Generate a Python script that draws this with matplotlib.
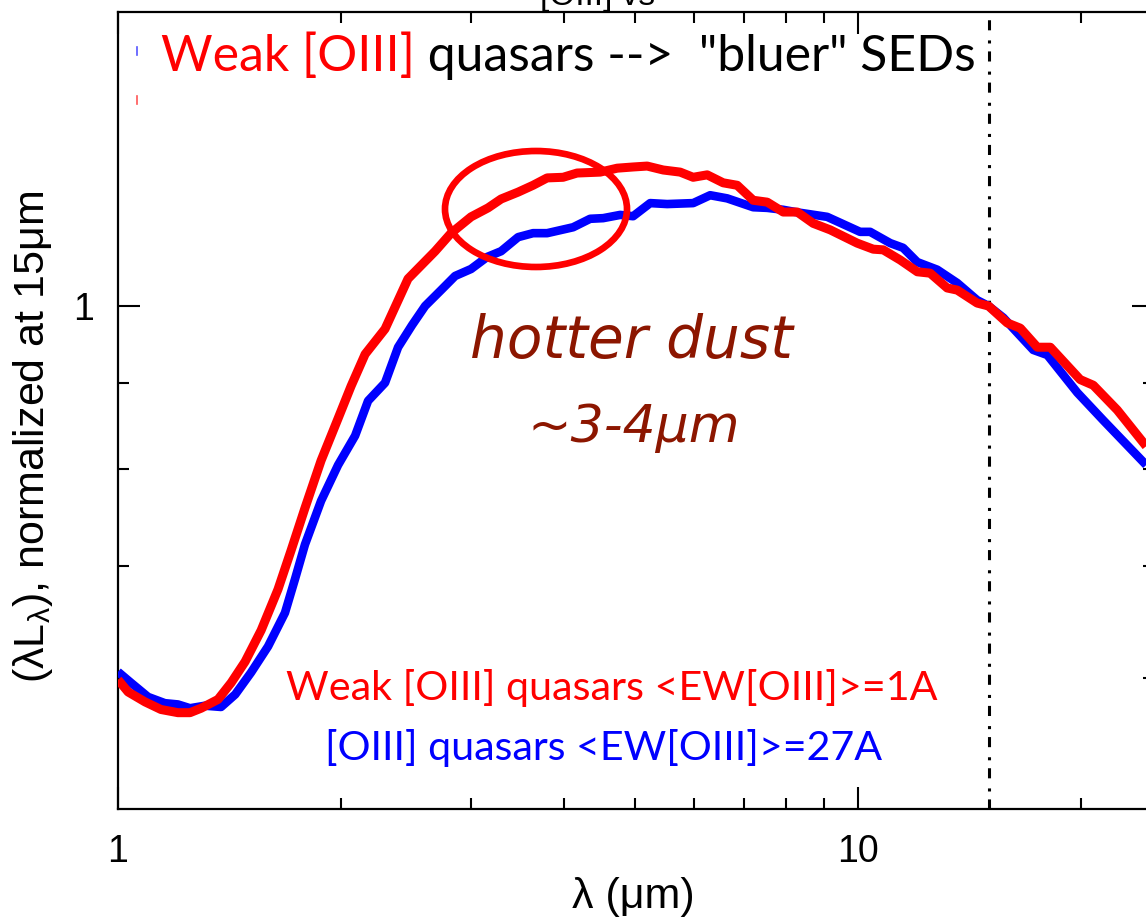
import matplotlib
matplotlib.use("Agg")
import matplotlib.pyplot as plt
from matplotlib.patches import Ellipse
from matplotlib.lines import Line2D
from matplotlib.ticker import FixedLocator, NullFormatter, FixedFormatter

# ---------------- data ----------------
wave_weak = [1.000, 1.032, 1.088, 1.143, 1.205, 1.251, 1.295, 1.365, 1.422, 1.485,
             1.561, 1.645, 1.713, 1.789, 1.881, 1.983, 2.065, 2.157, 2.295, 2.465,
             2.682, 2.818, 2.999, 3.162, 3.293, 3.472, 3.637, 3.800, 3.993, 4.171,
             4.482, 4.725, 4.966, 5.187, 5.452, 5.748, 5.985, 6.252, 6.571, 6.864,
             7.214, 7.536, 7.920, 8.273, 8.694, 9.167, 9.969, 10.48, 10.81, 11.40,
             12.02, 12.51, 13.19, 13.61, 14.48, 15.00, 15.90, 16.56, 17.46, 18.18,
             19.95, 20.78, 22.39, 24.50]
lum_weak = [0.599, 0.589, 0.581, 0.575, 0.5725, 0.5725, 0.576, 0.583, 0.5965, 0.614,
            0.641, 0.678, 0.715, 0.758, 0.809, 0.857, 0.896, 0.936, 0.969, 1.038,
            1.078, 1.105, 1.130, 1.144, 1.158, 1.169, 1.180, 1.192, 1.193, 1.200,
            1.2015, 1.208, 1.210, 1.2115, 1.205, 1.2015, 1.193, 1.197, 1.184, 1.180,
            1.156, 1.153, 1.1375, 1.1375, 1.120, 1.110, 1.090, 1.081, 1.080, 1.065,
            1.048, 1.046, 1.025, 1.022, 1.004, 1.000, 0.977, 0.970, 0.945, 0.945,
            0.904, 0.897, 0.867, 0.825]

wave_strong = [1.000, 1.041, 1.098, 1.157, 1.205, 1.251, 1.311, 1.378, 1.440, 1.513,
               1.595, 1.681, 1.735, 1.789, 1.881, 1.983, 2.091, 2.177, 2.295, 2.390,
               2.496, 2.600, 2.732, 2.854, 2.999, 3.153, 3.293, 3.472, 3.637, 3.800,
               4.120, 4.344, 4.524, 4.769, 4.966, 5.236, 5.520, 5.985, 6.310, 6.653,
               7.214, 7.536, 7.920, 8.273, 9.081, 10.06, 10.38, 11.05, 11.50, 12.02,
               12.79, 13.61, 14.48, 15.00, 15.71, 17.24, 18.01, 19.77, 21.43, 24.50]
lum_strong = [0.6055, 0.5965, 0.585, 0.580, 0.579, 0.576, 0.578, 0.577, 0.587, 0.605,
              0.627, 0.6565, 0.688, 0.721, 0.7655, 0.804, 0.837, 0.878, 0.900, 0.945,
              0.974, 1.000, 1.022, 1.042, 1.052, 1.0695, 1.078, 1.099, 1.105, 1.105,
              1.114, 1.127, 1.128, 1.133, 1.131, 1.1515, 1.150, 1.1515, 1.164, 1.159,
              1.145, 1.144, 1.141, 1.137, 1.130, 1.107, 1.107, 1.090, 1.083, 1.062,
              1.051, 1.032, 1.008, 1.000, 0.984, 0.9415, 0.935, 0.888, 0.855, 0.804]

norm_wave = 15.0
x_range = (1.0, 25.1)
y_range = (0.502, 1.4955)
x_major = [1, 10]
x_major_labels = ["1", "10"]
x_minor = [2, 3, 4, 5, 6, 7, 8, 9, 20]
y_major = [1.0]
y_major_labels = ["1"]
y_minor = [0.6, 0.7, 0.8, 0.9]

title_text = "[OIII] vs"
top_red = "Weak [OIII]"
top_black = ' quasars -->  "bluer" SEDs'
note1 = "hotter dust"
note2 = "~3-4μm"
label_weak = "Weak [OIII] quasars <EW[OIII]>=1A"
label_strong = "[OIII] quasars <EW[OIII]>=27A"
xlabel = "λ (μm)"
ylabel = r"(λL$_\mathregular{λ}$), normalized at 15μm"

# ---------------- figure ----------------
W, H = 1146, 917
plt.rcParams['font.family'] = ['Liberation Sans', 'DejaVu Sans']
plt.rcParams['mathtext.fontset'] = 'custom'
plt.rcParams['mathtext.rm'] = 'Liberation Sans'

fig = plt.figure(figsize=(W / 100, H / 100), dpi=100)
fig.patch.set_facecolor('white')


def fpx(x, y):
    return x / W, 1 - y / H


ax_l, ax_r, ax_t, ax_b = 118, 1154, 12.5, 808.5
ax = fig.add_axes([ax_l / W, 1 - ax_b / H, (ax_r - ax_l) / W, (ax_b - ax_t) / H])
ax.set_xscale('log')
ax.set_yscale('log')
ax.set_xlim(*x_range)
ax.set_ylim(*y_range)

ax.plot(wave_strong, lum_strong, color='#0000ff', lw=6.2, solid_joinstyle='round',
        solid_capstyle='butt', zorder=3)
ax.plot(wave_weak, lum_weak, color='#ff0000', lw=6.5, solid_joinstyle='round',
        solid_capstyle='butt', zorder=4)

ax.axvline(norm_wave, color='black', lw=2.2, linestyle=(0, (3.3, 2.6, 1.0, 3.3)), zorder=2)

# ticks
ax.xaxis.set_major_locator(FixedLocator(x_major))
ax.xaxis.set_major_formatter(FixedFormatter(x_major_labels))
ax.xaxis.set_minor_locator(FixedLocator(x_minor))
ax.xaxis.set_minor_formatter(NullFormatter())
ax.yaxis.set_major_locator(FixedLocator(y_major))
ax.yaxis.set_major_formatter(FixedFormatter(y_major_labels))
ax.yaxis.set_minor_locator(FixedLocator(y_minor))
ax.yaxis.set_minor_formatter(NullFormatter())
ax.tick_params(which='both', direction='in', top=True, right=True, width=1.5, color='black')
ax.tick_params(which='major', length=15.5, labelsize=27)
ax.tick_params(which='minor', length=8)
ax.tick_params(axis='x', which='major', pad=18)
ax.tick_params(axis='y', which='major', pad=17)
for s in ax.spines.values():
    s.set_linewidth(1.6)

# ellipse highlight (axes-fraction placement)
ecx, ecy, ew, eh = 536, 209, 182, 116
ell = Ellipse(((ecx - ax_l) / (ax_r - ax_l), (ax_b - ecy) / (ax_b - ax_t)),
              ew / (ax_r - ax_l), eh / (ax_b - ax_t), transform=ax.transAxes,
              fill=False, edgecolor='#ff0000', lw=4.8, zorder=5)
ax.add_patch(ell)

# axis labels
fig.text(*fpx(633, 897), xlabel, ha='center', va='center', fontsize=31,
         family=['Liberation Sans', 'DejaVu Sans'])
fig.text(*fpx(33, 437), ylabel, ha='center', va='center', rotation=90, fontsize=31,
         family=['Liberation Sans', 'DejaVu Sans'])

# annotations
afont = ['Lato', 'DejaVu Sans']
t_red = fig.text(*fpx(161, 71), top_red, color='#ff0000', fontsize=30, family=afont,
                 ha='left', va='baseline')
t_blk = fig.text(*fpx(400, 71), top_black, color='black', fontsize=30, family=afont,
                 ha='left', va='baseline')
t_n1 = fig.text(*fpx(631.5, 358), note1, color='#8c1600', fontsize=42, style='italic',
                family=['DejaVu Sans'], ha='center', va='baseline')
t_n2 = fig.text(*fpx(633.5, 442), note2, color='#8c1600', fontsize=42, style='italic',
                family=['DejaVu Sans'], ha='center', va='baseline')
t_lw = fig.text(*fpx(612, 700), label_weak, color='#ff0000', fontsize=26, family=afont,
                ha='center', va='baseline')
t_ls = fig.text(*fpx(604, 760), label_strong, color='#0000ff', fontsize=26, family=afont,
                ha='center', va='baseline')
t_title = fig.text(*fpx(540, 5), title_text, color='black', fontsize=24,
                   family=['Liberation Sans', 'DejaVu Sans'], ha='left', va='baseline')

# tiny legend marks at top-left
fig.add_artist(Line2D([136.7 / W, 136.7 / W], [1 - 47 / H, 1 - 55 / H], color='#5555ff',
                      lw=1.2, transform=fig.transFigure))
fig.add_artist(Line2D([136.7 / W, 136.7 / W], [1 - 96 / H, 1 - 104 / H], color='#ff5555',
                      lw=1.2, transform=fig.transFigure))

# fit text sizes to measured widths
fig.canvas.draw()
rend = fig.canvas.get_renderer()


def width(t):
    return t.get_window_extent(rend).width


def fit(t, target):
    t.set_fontsize(t.get_fontsize() * target / width(t))


tot = width(t_red) + width(t_blk)
scale = 812 / tot
t_red.set_fontsize(t_red.get_fontsize() * scale)
t_blk.set_fontsize(t_blk.get_fontsize() * scale)
fig.canvas.draw()
t_blk.set_position(fpx(161 + width(t_red), 71))
fit(t_n1, 323)
fit(t_n2, 213)
fit(t_lw, 650)
fit(t_ls, 556)

fig.savefig("out.png", dpi=100, facecolor='white')
